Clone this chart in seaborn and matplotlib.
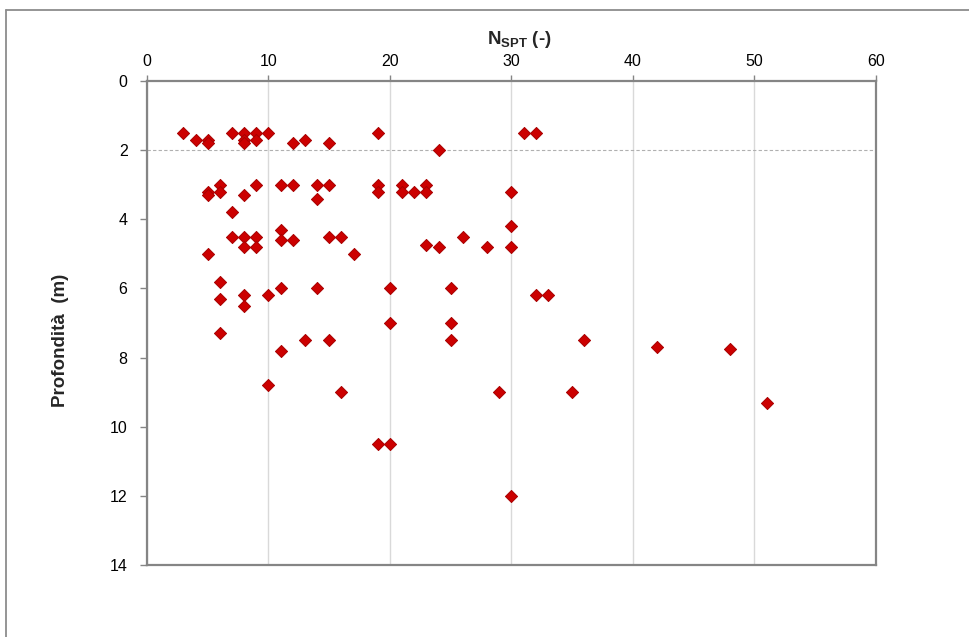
import matplotlib
matplotlib.use("Agg")
import matplotlib.pyplot as plt
from matplotlib.lines import Line2D
import seaborn as sns
import pandas as pd

# SPT blow counts (N) and the depth (m) at which each test was run
n_spt = [
    3, 7, 8, 9, 10, 19, 31, 32,
    4, 5, 8, 9, 13,
    5, 8, 12, 15,
    24,
    6, 9, 11, 12, 14, 15, 19, 21, 23,
    5, 6, 19, 21, 22, 23, 30,
    5, 8, 14, 7, 30, 11,
    7, 8, 9, 15, 16, 26,
    11, 12, 23,
    8, 9, 24, 28, 30,
    5, 17, 6,
    11, 14, 20, 25,
    8, 10, 32, 33, 6, 8,
    20, 25, 6,
    13, 15, 25, 36, 42, 48, 11,
    10, 16, 29, 35, 51,
    19, 20, 30,
]
depth = [
    1.5, 1.5, 1.5, 1.5, 1.5, 1.5, 1.5, 1.5,
    1.7, 1.7, 1.7, 1.7, 1.7,
    1.8, 1.8, 1.8, 1.8,
    2.0,
    3.0, 3.0, 3.0, 3.0, 3.0, 3.0, 3.0, 3.0, 3.0,
    3.2, 3.2, 3.2, 3.2, 3.2, 3.2, 3.2,
    3.3, 3.3, 3.4, 3.8, 4.2, 4.3,
    4.5, 4.5, 4.5, 4.5, 4.5, 4.5,
    4.6, 4.6, 4.75,
    4.8, 4.8, 4.8, 4.8, 4.8,
    5.0, 5.0, 5.8,
    6.0, 6.0, 6.0, 6.0,
    6.2, 6.2, 6.2, 6.2, 6.3, 6.5,
    7.0, 7.0, 7.3,
    7.5, 7.5, 7.5, 7.5, 7.7, 7.75, 7.8,
    8.8, 9.0, 9.0, 9.0, 9.3,
    10.5, 10.5, 12.0,
]

x_ticks = [0, 10, 20, 30, 40, 50, 60]
y_ticks = [0, 2, 4, 6, 8, 10, 12, 14]
reference_depth = 2.0

df = pd.DataFrame({"N": n_spt, "z": depth})

sns.set_theme(style="white")
plt.rcParams["font.family"] = ["Liberation Sans", "DejaVu Sans"]
plt.rcParams["mathtext.fontset"] = "custom"
plt.rcParams["mathtext.rm"] = "Liberation Sans"
plt.rcParams["mathtext.bf"] = "Liberation Sans:bold"

fig = plt.figure(figsize=(9.70, 6.37), dpi=100)
fig.patch.set_facecolor("white")
ax = fig.add_axes([147 / 970, 1 - 565 / 637, (876 - 147) / 970, (565 - 81) / 637])

# outer frame of the chart area
frame_col = "#8c8c8c"
fig.add_artist(Line2D([6.5 / 970, 6.5 / 970], [0, 1 - 10 / 637],
                      transform=fig.transFigure, color=frame_col, lw=1.3))
fig.add_artist(Line2D([6.5 / 970, 1], [1 - 10 / 637, 1 - 10 / 637],
                      transform=fig.transFigure, color=frame_col, lw=1.3))

sns.scatterplot(data=df, x="N", y="z", ax=ax, marker="D", s=38,
                color="#CC0000", edgecolor="#A80000", linewidth=0.7,
                zorder=3, legend=False)

ax.axhline(reference_depth, color="#b0b0b0", lw=0.8, ls=(0, (3, 2)), zorder=1)

ax.set_xlim(0, 60)
ax.set_ylim(14, 0)
ax.set_xticks(x_ticks)
ax.set_yticks(y_ticks)
ax.xaxis.tick_top()
ax.xaxis.set_label_position("top")
ax.grid(axis="x", color="#d9d9d9", lw=1.0)
ax.grid(axis="y", visible=False)

for side in ["top", "bottom", "left", "right"]:
    ax.spines[side].set_visible(True)
    ax.spines[side].set_color("#858585")
    ax.spines[side].set_linewidth(1.6)

ax.tick_params(axis="x", which="major", top=True, bottom=False, direction="out",
               length=4, width=1, color="#858585", labelsize=11.5, pad=5,
               labelcolor="#000000")
ax.tick_params(axis="y", which="major", left=True, direction="out",
               length=5, width=1, color="#858585", labelsize=11.5, pad=9,
               labelcolor="#000000")

ax.set_xlabel(r"$\mathbf{N_{SPT}}$ (-)", fontsize=13.5, fontweight="bold", labelpad=7)
ax.set_ylabel("Profondità  (m)", fontsize=13.5, fontweight="bold", labelpad=29)
ax.xaxis.label.set_x(0.511)
ax.yaxis.label.set_y(0.465)

fig.savefig("out.png", dpi=100, facecolor="white")
